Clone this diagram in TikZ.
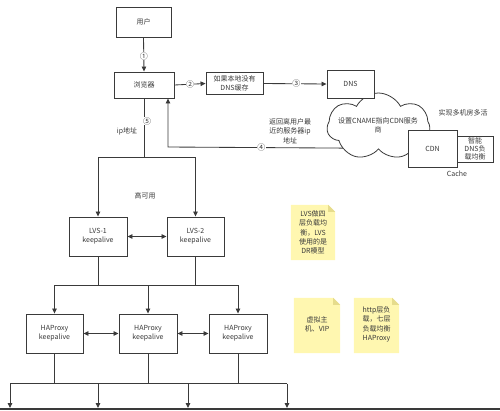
\documentclass[tikz,border=0pt]{standalone}
\usepackage{fontspec}
\setmainfont{Noto Sans CJK SC}
\usetikzlibrary{arrows.meta,shapes.symbols}
\definecolor{lc}{HTML}{3A3A3A}
\definecolor{notefill}{HTML}{FFF7B0}
\definecolor{notefold}{HTML}{E6DC8C}
\pgfdeclarelayer{bg}
\pgfsetlayers{bg,main}
\begin{document}
\begin{tikzpicture}[x=1pt,y=-1pt,
  every node/.style={font=\fontsize{7}{9.3}\selectfont, text=lc, align=center},
  box/.style={draw=lc, line width=0.9pt, fill=white, inner sep=0pt},
  conn/.style={draw=lc, line width=0.85pt},
  arr/.style={conn, -{Triangle[length=5pt,width=4.5pt]}},
  darr/.style={conn, {Triangle[length=5pt,width=4.5pt]}-{Triangle[length=5pt,width=4.5pt]}},
  num/.style={fill=white, inner sep=0.3pt, font=\fontsize{8}{8}\selectfont},
  note/.style={inner sep=0pt, minimum width=#1, minimum height=55pt},
]
\useasboundingbox (0,0) rectangle (500,410);

% boxes
\node[box, minimum width=55pt, minimum height=30pt] (user) at (143.5,22) {用户};
\node[box, minimum width=60pt, minimum height=26pt] (browser) at (144,85) {浏览器};
\node[box, minimum width=57pt, minimum height=22pt] (cache) at (234.5,83.5) {如果本地没有\\DNS缓存};

% cloud (below DNS and CDN boxes)
\node[cloud, cloud puffs=7, cloud puff arc=125, cloud ignores aspect, draw=lc, fill=white, line width=0.8pt,
      minimum width=103pt, minimum height=67pt, inner sep=0pt] (cloud) at (378.5,126.5) {};
\node (cloudtxt) at (378,125) {设置CNAME指向CDN服务\\商};

\node[box, minimum width=47pt, minimum height=28pt] (dns) at (350.5,84) {DNS};
\node[box, minimum width=49pt, minimum height=37pt] (cdn) at (432.5,148.5) {CDN};
\node[box, minimum width=36pt, minimum height=26pt, font=\fontsize{7}{8.2}\selectfont] (smart) at (475,149) {智能\\DNS负\\载均衡};
\node (multi) at (463,113) {实现多机房多活};
\node (cachelbl) at (457,174) {Cache};
\node (ret) at (290,131) {返回离用户最\\近的服务器ip\\地址};
\node (iplbl) at (127,131.5) {ip地址};
\node (ha) at (145,196) {高可用};

\node[box, minimum width=58pt, minimum height=39pt] (lvs1) at (98,236.5) {LVS-1\\keepalive};
\node[box, minimum width=57pt, minimum height=39pt] (lvs2) at (195.5,236.5) {LVS-2\\keepalive};

\node[box, minimum width=57pt, minimum height=39pt] (hp1) at (54.5,333.5) {HAProxy\\keepalive};
\node[box, minimum width=58pt, minimum height=39pt] (hp2) at (148,333.5) {HAProxy\\keepalive};
\node[box, minimum width=58pt, minimum height=39pt] (hp3) at (238,333.5) {HAProxy\\keepalive};

% notes
\foreach \nm/\cx/\cy/\w in {n1/313/232.5/44pt, n2/317/325.5/46pt, n3/376.5/325.5/45pt}{
  \node[note=\w] (\nm) at (\cx,\cy) {};
  \fill[notefill] (\nm.north west) -- ([xshift=-7pt]\nm.north east) -- ([yshift=-7pt]\nm.north east) -- (\nm.south east) -- (\nm.south west) -- cycle;
  \fill[notefold] ([xshift=-7pt]\nm.north east) -- ([yshift=-7pt]\nm.north east) -- ([xshift=-7pt,yshift=-7pt]\nm.north east) -- cycle;
}
\node (n1t) at (n1) {LVS做四\\层负载均\\衡，LVS\\使用的是\\DR模型};
\node (n2t) at ([yshift=1pt]n2) {虚拟主\\机、VIP};
\node (n3t) at ([yshift=1pt]n3) {http层负\\载，七层\\负载均衡\\HAProxy};

% top connectors
\draw[arr] (user.south) -- node[num, pos=0.55] {①} (browser.north);
\draw[arr] (browser.east) -- node[num, pos=0.5] {②} (cache.west);
\draw[arr] (cache.east) -- node[num, pos=0.52] {③} (dns.west);

\coordinate (retx) at (168,147);
\begin{pgfonlayer}{bg}
\draw[arr] (cdn.west) -- node[num, pos=0.61] {④} (retx) -- (retx |- browser.south);
\end{pgfonlayer}

% to LVS
\coordinate (j1) at (144,157);
\draw[conn] (browser.south) -- (j1);
\node[num] (n5) at (147,121) {⑤};
\draw[arr] (j1) -| (lvs1.north);
\draw[arr] (j1) -| (lvs2.north);
\draw[darr] (lvs1.east) -- (lvs2.west);

% to HAProxy
\coordinate (j2a) at (54.5,285);
\coordinate (j2b) at (238,285);
\draw[conn] (lvs1.south) -- (lvs1.south |- j2a);
\draw[conn] (lvs2.south) -- (lvs2.south |- j2a);
\draw[arr] (j2a) -- (hp1.north);
\draw[arr] (hp2.north |- j2a) -- (hp2.north);
\draw[arr] (j2b) -- (hp3.north);
\draw[conn] (j2a) -- (j2b);
\draw[darr] (hp1.east) -- (hp2.west);
\draw[darr] (hp2.east) -- (hp3.west);

% bottom
\coordinate (b1) at (10,383.5);
\coordinate (b4) at (287,383.5);
\coordinate (t1) at (10,408);
\coordinate (t2) at (98,408);
\coordinate (t3) at (188,408);
\coordinate (t4) at (287,408);
\draw[conn] (hp1.south) -- (hp1.south |- b1);
\draw[conn] (hp2.south) -- (hp2.south |- b1);
\draw[conn] (hp3.south) -- (hp3.south |- b1);
\draw[conn] (b1) -- (b4);
\draw[arr] (b1) -- (t1);
\draw[arr] (t2 |- b1) -- (t2);
\draw[arr] (t3 |- b1) -- (t3);
\draw[arr] (b4) -- (t4);
\draw[line width=1.6pt, lc] (0,409.2) -- (500,409.2);
\end{tikzpicture}
\end{document}
